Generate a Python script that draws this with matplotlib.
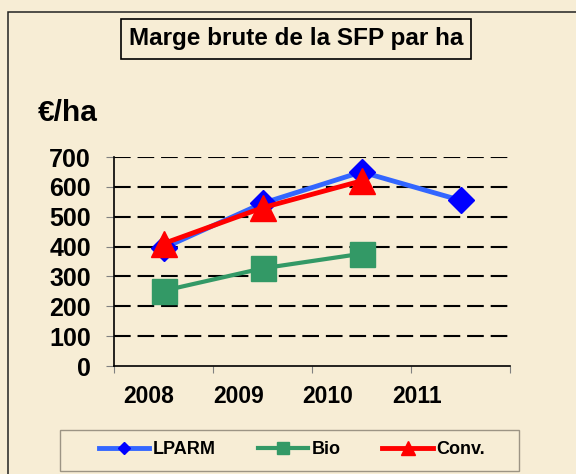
import numpy as np
import matplotlib
matplotlib.use("Agg")
import matplotlib.pyplot as plt
from matplotlib.patches import Rectangle

# Donnees
annees = ["2008", "2009", "2010", "2011"]
lparm = [395, 545, 650, 555]
bio = [252, 327, 376, np.nan]
conv = [410, 530, 620, np.nan]

plt.rcParams["font.family"] = ["Liberation Sans", "DejaVu Sans"]
plt.rcParams["font.weight"] = "bold"

fond = "#F7EDD5"
W, H = 576, 474

fig = plt.figure(figsize=(W / 100, H / 100), dpi=100, facecolor=fond)
ax = fig.add_axes([114 / W, 1 - 366 / H, (510 - 114) / W, (366 - 157) / H])
ax.set_facecolor("none")

x = np.arange(len(annees))
ax.plot(x, lparm, color="#3366FF", lw=3.5, marker="D", ms=13,
        mfc="#0000FF", mec="#0000FF", label="LPARM", zorder=3)
ax.plot(x, bio, color="#339966", lw=3, marker="s", ms=18,
        mfc="#339966", mec="#339966", label="Bio", zorder=3)
ax.plot(x, conv, color="#FF0000", lw=3.5, marker="^", ms=19,
        mfc="#FF0000", mec="#FF0000", label="Conv.", zorder=4)

ax.set_xlim(-0.5, len(annees) - 0.5)
ax.set_ylim(0, 700)
ax.set_yticks(np.arange(0, 701, 100))
ax.set_xticks(np.arange(len(annees) + 1) - 0.5)
ax.set_xticklabels([])

# les etiquettes d'annees sont decalees vers la gauche dans l'original
for i, a in enumerate(annees):
    ax.text(0.087 + 0.2265 * i, -0.148, a, transform=ax.transAxes,
            ha="center", va="center", fontsize=16.5, fontweight="bold")

for v in np.arange(100, 701, 100):
    ax.axhline(v, color="black", lw=1.5, ls=(0, (8, 3.3)), zorder=1)

for s in ["top", "right"]:
    ax.spines[s].set_visible(False)
for s in ["left", "bottom"]:
    ax.spines[s].set_color("black")
    ax.spines[s].set_linewidth(1.2)

ax.tick_params(axis="y", which="major", length=5.5, color="#808080",
               pad=11, labelsize=18)
ax.tick_params(axis="x", which="major", length=5, color="#808080",
               direction="out")

# Cadre exterieur
fig.patches.append(Rectangle((8 / W, -0.1), 1.2, 1.1 - 12 / H,
                             transform=fig.transFigure, fill=False,
                             edgecolor="#222222", lw=1.1))

fig.text(296 / W, 1 - 39 / H, "Marge brute de la SFP par ha", fontsize=17.5,
         fontweight="bold", ha="center", va="center",
         bbox=dict(boxstyle="square,pad=0.33", fc=fond, ec="black", lw=1.2))
fig.text(38 / W, 1 - 113 / H, "€/ha", fontsize=21.5, fontweight="bold",
         ha="left", va="center")

# Legende
fig.patches.append(Rectangle((60 / W, 1 - 471 / H), (519 - 60) / W, 41 / H,
                             transform=fig.transFigure, fill=False,
                             edgecolor="#9C9484", lw=1))
leg = fig.legend(loc="center", bbox_to_anchor=(292 / W, 1 - 450 / H),
                 ncol=3, frameon=False, fontsize=13, handlelength=2.8,
                 columnspacing=2.3, handletextpad=0.2, markerscale=0.5)

fig.savefig("out.png", dpi=100, facecolor=fond)
